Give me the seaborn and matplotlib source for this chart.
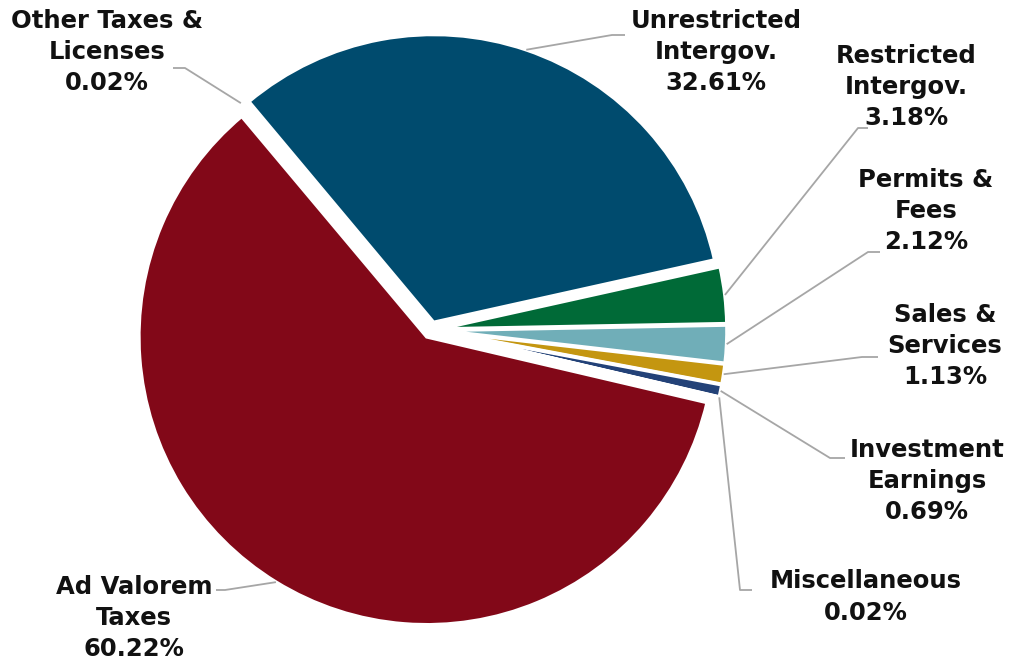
import numpy as np
import matplotlib
matplotlib.use("Agg")
import matplotlib.pyplot as plt
import seaborn as sns

# ---- data ----
categories = ["Other Taxes &\nLicenses", "Unrestricted\nIntergov.", "Restricted\nIntergov.",
              "Permits &\nFees", "Sales &\nServices", "Investment\nEarnings",
              "Miscellaneous", "Ad Valorem\nTaxes"]
shares = [0.02, 32.61, 3.18, 2.12, 1.13, 0.69, 0.02, 60.22]
pct_labels = ["0.02%", "32.61%", "3.18%", "2.12%", "1.13%", "0.69%", "0.02%", "60.22%"]
colors = ["#8C8C8C", "#004B6E", "#006A37", "#70AEB8", "#C49610", "#234278", "#7F7F7F", "#820818"]

# ---- layout (pixel coords, y measured from top) ----
W, H = 1010, 664
CX, CY, R = 431, 330, 288
EXPL = 8  # pixels
label_pos = [(107, 52), (716, 52), (906, 87), (926, 211), (945, 346),
             (927, 481), (866, 597), (134, 618)]
elbows = [(185, 68), (612, 35), (858, 128), (868, 252), (862, 357),
          (830, 458), (740, 590), (225, 590)]
ends = [(173, 68), (625, 35), (868, 128), (880, 252), (878, 357),
        (845, 458), (752, 590), (216, 590)]

sns.set_theme(style="white")
plt.rcParams["font.family"] = ["DejaVu Sans"]

fig = plt.figure(figsize=(W / 100, H / 100), dpi=100)
ax = fig.add_axes([0, 0, 1, 1])
palette = sns.color_palette(colors)

explode = [EXPL] * len(shares)
wedges, _ = ax.pie(shares, colors=palette, startangle=130, counterclock=False,
                   radius=R, center=(CX, H - CY), explode=explode,
                   wedgeprops=dict(edgecolor="white", linewidth=2.6))
ax.set_xlim(0, W)
ax.set_ylim(0, H)
ax.set_aspect("auto")
ax.axis("off")

for i, w in enumerate(wedges):
    mid = np.deg2rad((w.theta1 + w.theta2) / 2)
    rr = R + explode[i]
    sx = CX + rr * np.cos(mid)
    sy = (H - CY) + rr * np.sin(mid)
    ex, ey = elbows[i]
    hx, hy = ends[i]
    ax.plot([sx, ex, hx], [sy, H - ey, H - hy], color="#A6A6A6", lw=1.3,
            solid_capstyle="butt", zorder=1)
    lx, ly = label_pos[i]
    ax.text(lx, H - ly, categories[i] + "\n" + pct_labels[i], ha="center", va="center",
            multialignment="center", fontsize=17.5, fontweight="bold", color="#111111",
            linespacing=1.38)

fig.savefig("out.png", dpi=100)
